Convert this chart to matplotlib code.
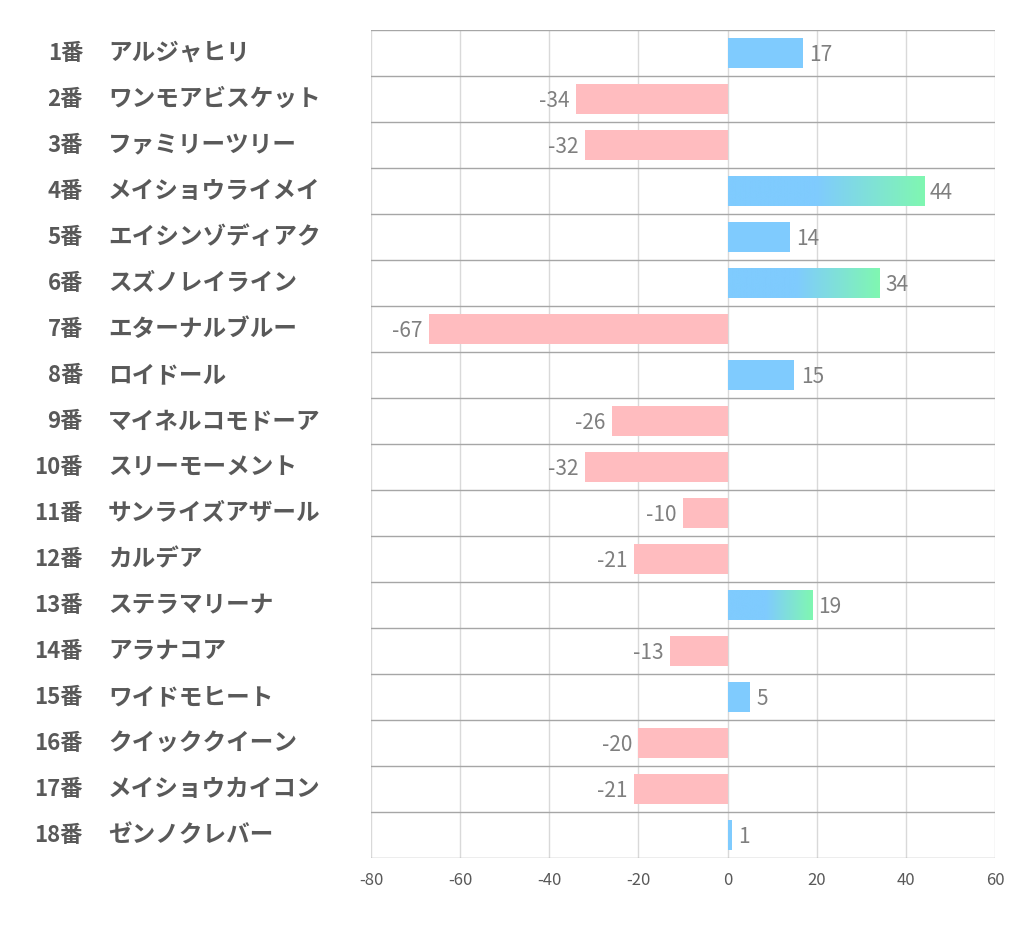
"""Horizontal bar chart of per-horse scores (blue positive, pink negative)."""

import matplotlib

matplotlib.use("Agg")
import matplotlib.pyplot as plt
import numpy as np
from matplotlib.colors import LinearSegmentedColormap
from matplotlib.transforms import blended_transform_factory

plt.rcParams["font.family"] = ["Noto Sans CJK JP", "DejaVu Sans"]

NUMBERS = [f"{i}番" for i in range(1, 19)]
NAMES = [
    "アルジャヒリ", "ワンモアビスケット", "ファミリーツリー", "メイショウライメイ",
    "エイシンゾディアク", "スズノレイライン", "エターナルブルー", "ロイドール",
    "マイネルコモドーア", "スリーモーメント", "サンライズアザール", "カルデア",
    "ステラマリーナ", "アラナコア", "ワイドモヒート", "クイッククイーン",
    "メイショウカイコン", "ゼンノクレバー",
]
VALUES = [17, -34, -32, 44, 14, 34, -67, 15, -26, -32, -10, -21, 19, -13, 5, -20, -21, 1]
XTICKS = [-80, -60, -40, -20, 0, 20, 40, 60]

BLUE = "#7fcbfe"
GREEN = "#80f7b1"
PINK = "#ffbcbf"
TEXT = "#595959"
BAR_H = 0.65

fig = plt.figure(figsize=(10.22, 9.39), dpi=100)
ax = fig.add_axes([371 / 1022, 1 - 858 / 939, 624 / 1022, 828 / 939])

ys = np.arange(len(VALUES))
top3 = set(np.argsort(VALUES)[-3:])
grad = LinearSegmentedColormap.from_list("bg", [(0, BLUE), (0.45, BLUE), (1, GREEN)])

for y, v in zip(ys, VALUES):
    if v >= 0 and y in top3:
        img = np.linspace(0, 1, 256).reshape(1, -1)
        ax.imshow(img, cmap=grad, aspect="auto", zorder=2,
                  extent=[0, v, y + BAR_H / 2, y - BAR_H / 2])
    else:
        ax.barh(y, v, height=BAR_H, color=BLUE if v >= 0 else PINK, zorder=2)
    if v >= 0:
        ax.text(v + 1.4, y + 0.05, str(v), ha="left", va="center", fontsize=15, color="#7f7f7f")
    else:
        ax.text(v - 1.4, y + 0.05, str(v), ha="right", va="center", fontsize=15, color="#7f7f7f")

ax.set_xlim(-80, 60)
ax.set_ylim(len(VALUES) - 0.5, -0.5)
ax.set_aspect("auto")
ax.set_xticks(XTICKS)
ax.set_xticklabels([str(t) for t in XTICKS], fontsize=12, color=TEXT)
ax.set_yticks([])
ax.tick_params(axis="x", length=0, pad=10)
for x in XTICKS:
    ax.axvline(x, color="#d9d9d9", linewidth=1, zorder=1)
for k in range(len(VALUES) + 1):
    ax.axhline(k - 0.5, color="#a6a6a6", linewidth=1, zorder=1)
for s in ax.spines.values():
    s.set_visible(False)

tr = blended_transform_factory(fig.transFigure, ax.transData)
for y, num, name in zip(ys, NUMBERS, NAMES):
    ax.text(83 / 1022, y, num, transform=tr, ha="right", va="center",
            fontsize=16, fontweight="bold", color=TEXT)
    ax.text(108 / 1022, y, name, transform=tr, ha="left", va="center",
            fontsize=17, fontweight="bold", color=TEXT)

fig.savefig("out.png", dpi=100)
